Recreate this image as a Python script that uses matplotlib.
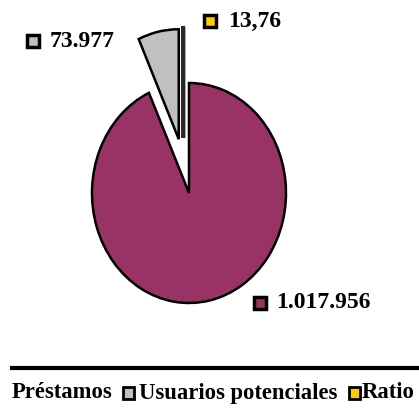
import matplotlib.pyplot as plt
from matplotlib.lines import Line2D
from matplotlib.patches import Rectangle

# Series values
categories = ['Préstamos', 'Usuarios potenciales', 'Ratio']
values = [1017956, 73977, 13.76]
colors = ['#993366', '#C0C0C0', '#FFCC00']
explode = [0.0, 0.5, 0.5]

# Label placement (data coords: marker x, text x, y)
label_pos = [(0.73, 0.90, -1.0), (-1.61, -1.44, 1.38), (0.22, 0.40, 1.56)]


def fmt_value(v):
    # Spanish style: dots for thousands, comma for decimals
    if float(v).is_integer():
        return f"{v:,.0f}".replace(",", ".")
    return f"{v:.2f}".replace(".", ",")


W, H = 419, 408
fig = plt.figure(figsize=(W / 100, H / 100), dpi=100)

# Pie centre at (189, 193) px, radii 97 px across and 110 px down
cx, cy, rx, ry = 189, 193, 97, 110
xlim = (-1.9, 2.35)
ylim = (-1.2, 1.68)
left = (cx + xlim[0] * rx) / W
width = (xlim[1] - xlim[0]) * rx / W
bottom = (H - (cy - ylim[0] * ry)) / H
height = (ylim[1] - ylim[0]) * ry / H
ax = fig.add_axes([left, bottom, width, height])

font = {'family': 'Liberation Serif', 'weight': 'bold'}

wedges, _ = ax.pie(values, colors=colors, explode=explode, startangle=90,
                   counterclock=False,
                   wedgeprops={'edgecolor': 'black', 'linewidth': 1.8})
# the ratio slice is only a sliver: keep it beside the grey slice and
# give its outline some weight
gx = wedges[1].center[0]
wedges[2].set_center((gx + 0.045, wedges[2].center[1]))
wedges[2].set_linewidth(3.0)
wedges[2].set_edgecolor('#2a2a2a')
ax.set_aspect('auto')
ax.set_xlim(*xlim)
ax.set_ylim(*ylim)
ax.axis('off')

for v, c, (mx, tx, ty) in zip(values, colors, label_pos):
    ax.plot(mx, ty, marker='s', markersize=9, markerfacecolor=c,
            markeredgecolor='black', markeredgewidth=2.5, clip_on=False)
    ax.text(tx, ty, fmt_value(v), fontsize=17, va='center', ha='left',
            color='black', **font)

# Rule above the legend
fig.add_artist(Line2D([12 / W, 1.0], [1 - 368 / H, 1 - 368 / H],
                      color='black', linewidth=3))

# Legend row along the bottom (first marker falls off the left edge)
legend_marker_x = [-14, 123, 349]
legend_text_x = [12, 139, 362]
ly = 1 - 393 / H
for name, c, mx, tx in zip(categories, colors, legend_marker_x, legend_text_x):
    fig.add_artist(Rectangle((mx / W, ly - 6 / H), 11 / W, 12 / H,
                             transform=fig.transFigure, facecolor=c,
                             edgecolor='black', linewidth=2))
    fig.text(tx / W, ly, name, fontsize=16.3, va='center', ha='left',
             color='black', **font)

fig.savefig('out.png', dpi=100)
